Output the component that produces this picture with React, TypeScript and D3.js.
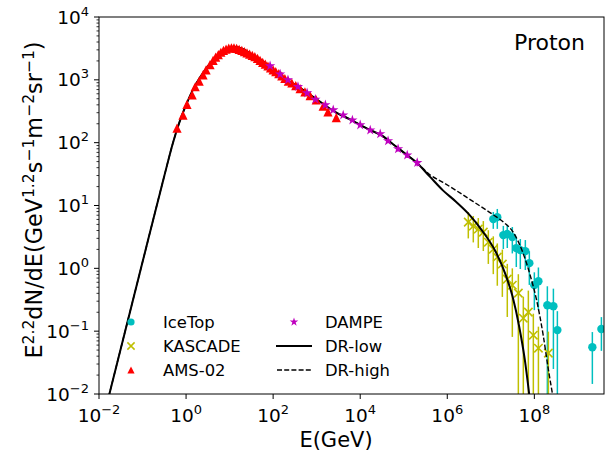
import React from 'react';
import * as d3 from 'd3';

const W = 609, H = 456;
const M = { left: 99, right: 604, top: 17, bottom: 394 };
const FONT = 'DejaVu Sans, sans-serif';

// AMS-02 (kinetic energy GeV, E^2.2 flux)
const amsE = [0.62, 0.85, 1.05, 1.38, 1.62, 2.0, 2.45, 2.88, 3.55, 4.17, 4.79, 5.5, 6.3, 7.24, 8.3, 9.55, 11.0, 12.6, 14.5, 16.6, 19.1, 21.9, 25.1, 28.8, 33.1, 38.0, 43.7, 50.1, 57.5, 66.1, 75.9, 87.1, 100, 115, 135, 158, 186, 224, 269, 331, 417, 537, 708, 977, 1410, 1820, 2820];
const amsF = [170, 275, 407, 575, 776, 955, 1200, 1445, 1740, 2040, 2290, 2510, 2750, 2950, 3090, 3200, 3240, 3240, 3160, 3050, 2950, 2820, 2690, 2570, 2450, 2340, 2190, 2040, 1900, 1780, 1660, 1550, 1445, 1350, 1260, 1150, 1050, 955, 890, 810, 724, 645, 562, 479, 380, 309, 251];

// DAMPE
const dampeE = [85.1, 145, 219, 372, 603, 933, 1585, 2400, 4070, 6610, 10000, 17000, 28800, 43650, 74100, 120200, 204000];
const dampeF = [1660, 1230, 1000, 776, 617, 490, 398, 331, 275, 229, 191, 158, 138, 107, 79.4, 63.1, 47.9];
const dampeErr = [0.03, 0.03, 0.03, 0.03, 0.03, 0.03, 0.04, 0.04, 0.05, 0.05, 0.06, 0.06, 0.07, 0.08, 0.09, 0.1, 0.12];

// IceTop
const iceE = [1.14e7, 1.41e7, 1.94e7, 2.39e7, 3.12e7, 3.85e7, 4.76e7, 6.21e7, 7.67e7, 1.0e8, 1.24e8, 1.99e8, 2.74e8, 3.38e8, 2.15e9, 3.47e9];
const iceF = [6.07, 6.53, 3.38, 3.51, 3.14, 2.10, 1.95, 1.88, 1.21, 0.54, 0.625, 0.259, 0.250, 0.104, 0.0556, 0.108];
const iceErr = [0.3, 0.35, 0.4, 0.4, 0.45, 0.5, 0.5, 0.5, 0.55, 0.6, 0.65, 1.0, 0.9, 1.0, 0.74, 0.55];

// KASCADE
const kasE = [3.04e6, 3.96e6, 5.16e6, 6.73e6, 8.77e6, 1.14e7, 1.41e7, 1.84e7, 2.39e7, 3.12e7, 4.29e7, 5.58e7, 7.28e7, 9.48e7, 1.24e8, 2.10e8];
const kasF = [5.44, 4.70, 4.21, 3.77, 2.61, 2.02, 1.51, 1.17, 0.673, 0.54, 0.403, 0.161, 0.201, 0.0863, 0.0536, 0.0447];
const kasErr = [0.45, 0.45, 0.5, 0.5, 0.55, 0.6, 0.65, 0.7, 0.75, 0.85, 1.0, 1.2, 1.2, 1.2, 1.2, 1.2];

// Model curves
const drLowE = [0.0166, 0.1, 0.316, 0.501, 0.708, 1.0, 1.585, 2.512, 3.98, 6.31, 10, 12.6, 19.95, 31.6, 50.1, 100, 199.5, 398, 1000, 2512, 6310, 15850, 31620, 63100, 125900, 199500, 398100, 794300, 1.585e6, 3.162e6, 6.31e6, 1.259e7, 2.239e7, 3.162e7, 4.467e7, 6.026e7, 7.762e7];
const drLowF = [0.0089, 1.26, 29.5, 100, 213.8, 398, 794, 1318, 1995, 2754, 3273, 3350, 3090, 2570, 2138, 1479, 1023, 759, 490, 316, 229, 162, 129, 89.1, 61.7, 47.9, 28.8, 17.4, 11.5, 7.24, 3.98, 1.905, 0.759, 0.355, 0.120, 0.0355, 0.0089];
const drHighE = [0.0166, 0.1, 0.316, 0.501, 0.708, 1.0, 1.585, 2.512, 3.98, 6.31, 10, 12.6, 19.95, 31.6, 50.1, 100, 199.5, 398, 1000, 2512, 6310, 15850, 31620, 63100, 125900, 199500, 398100, 794300, 1.585e6, 3.98e6, 1.148e7, 1.995e7, 3.236e7, 5.248e7, 7.943e7, 1.122e8, 1.585e8, 2.089e8, 2.69e8];
const drHighF = [0.0089, 1.26, 29.5, 100, 213.8, 398, 794, 1318, 1995, 2754, 3273, 3350, 3090, 2570, 2138, 1479, 1023, 759, 490, 316, 229, 162, 129, 89.1, 61.7, 47.9, 30.9, 23.4, 17.4, 11.5, 7.08, 5.37, 3.80, 1.905, 0.794, 0.316, 0.0891, 0.0251, 0.0089];

const xTickVals = [1e-2, 1e0, 1e2, 1e4, 1e6, 1e8];
const xTickExp = ['−2', '0', '2', '4', '6', '8'];
const yTickVals = [1e-2, 1e-1, 1e0, 1e1, 1e2, 1e3, 1e4];
const yTickExp = ['−2', '−1', '0', '1', '2', '3', '4'];

const C_ICE = '#00bfbf';
const C_KAS = '#bfbf00';
const C_AMS = '#ff0000';
const C_DAMPE = '#bf00bf';

function starPath(r: number) {
  const pts: string[] = [];
  for (let i = 0; i < 10; i++) {
    const rr = i % 2 === 0 ? r : r * 0.382;
    const a = -Math.PI / 2 + (i * Math.PI) / 5;
    pts.push(`${(rr * Math.cos(a)).toFixed(2)},${(rr * Math.sin(a)).toFixed(2)}`);
  }
  return 'M' + pts.join('L') + 'Z';
}
function triPath(h: number) {
  return `M0,${-h}L${h},${h}L${-h},${h}Z`;
}
function xPath(h: number) {
  return `M${-h},${-h}L${h},${h}M${-h},${h}L${h},${-h}`;
}

export default function App() {
  const x = d3.scaleLog().domain([1e-2, Math.pow(10, 9.6)]).range([M.left, M.right]);
  const y = d3.scaleLog().domain([1e-2, 1e4]).range([M.bottom, M.top]);
  const line = d3
    .line<[number, number]>()
    .x((d) => x(d[0]))
    .y((d) => y(d[1]))
    .curve(d3.curveMonotoneX);

  const lowPts = drLowE.map((e, i) => [e, drLowF[i]] as [number, number]);
  const highPts = drHighE.map((e, i) => [e, drHighF[i]] as [number, number]);

  const yMinor = y.ticks().filter((v) => {
    const m = v / Math.pow(10, Math.floor(Math.log10(v) + 1e-9));
    return Math.abs(m - 1) > 1e-6;
  });

  const errY = (f: number, r: number) => {
    const hi = y(f * (1 + r));
    const lo = r < 1 ? y(f * (1 - r)) : M.bottom + 10;
    return [hi, lo];
  };

  return (
    <svg
      width={W}
      height={H}
      style={{ position: 'absolute', left: 0, top: 0, background: '#fff' }}
      fontFamily={FONT}
    >
      <defs>
        <clipPath id="plotclip">
          <rect x={M.left} y={M.top} width={M.right - M.left} height={M.bottom - M.top} />
        </clipPath>
      </defs>
      <rect x={0} y={0} width={W} height={H} fill="#fff" />

      <g clipPath="url(#plotclip)">
        {/* IceTop */}
        <g>
          {iceE.map((e, i) => {
            const [hi, lo] = errY(iceF[i], iceErr[i]);
            return <line key={'ie' + i} x1={x(e)} x2={x(e)} y1={hi} y2={lo} stroke={C_ICE} strokeWidth={1.5} />;
          })}
          {iceE.map((e, i) => (
            <circle key={'ic' + i} cx={x(e)} cy={y(iceF[i])} r={4.2} fill={C_ICE} />
          ))}
        </g>
        {/* KASCADE */}
        <g>
          {kasE.map((e, i) => {
            const [hi, lo] = errY(kasF[i], kasErr[i]);
            return <line key={'ke' + i} x1={x(e)} x2={x(e)} y1={hi} y2={lo} stroke={C_KAS} strokeWidth={1.5} />;
          })}
          {kasE.map((e, i) => (
            <path key={'kx' + i} d={xPath(4.2)} transform={`translate(${x(e)},${y(kasF[i])})`} stroke={C_KAS} strokeWidth={1.6} fill="none" />
          ))}
        </g>
        {/* Model curves */}
        <path d={line(lowPts) || ''} fill="none" stroke="#000" strokeWidth={2} />
        <path d={line(highPts) || ''} fill="none" stroke="#000" strokeWidth={1.4} strokeDasharray="5,2.2" />
        {/* AMS-02 */}
        {amsE.map((e, i) => (
          <path key={'a' + i} d={triPath(4.6)} transform={`translate(${x(e)},${y(amsF[i])})`} fill={C_AMS} />
        ))}
        {/* DAMPE */}
        {dampeE.map((e, i) => {
          const [hi, lo] = errY(dampeF[i], dampeErr[i]);
          return <line key={'de' + i} x1={x(e)} x2={x(e)} y1={hi} y2={lo} stroke={C_DAMPE} strokeWidth={1.5} />;
        })}
        {dampeE.map((e, i) => (
          <path key={'d' + i} d={starPath(5.4)} transform={`translate(${x(e)},${y(dampeF[i])})`} fill={C_DAMPE} />
        ))}
      </g>

      {/* frame */}
      <rect x={M.left} y={M.top} width={M.right - M.left} height={M.bottom - M.top} fill="none" stroke="#000" strokeWidth={1} />

      {/* x ticks */}
      {xTickVals.map((v, i) => (
        <g key={'xt' + i}>
          <line x1={x(v)} x2={x(v)} y1={M.bottom} y2={M.bottom + 5} stroke="#000" strokeWidth={1} />
          <text x={x(v)} y={422} textAnchor="middle" fontSize={18.5} fill="#000">
            10<tspan dy={-8} fontSize={13}>{xTickExp[i]}</tspan>
          </text>
        </g>
      ))}
      {/* y ticks */}
      {yTickVals.map((v, i) => (
        <g key={'yt' + i}>
          <line x1={M.left - 5} x2={M.left} y1={y(v)} y2={y(v)} stroke="#000" strokeWidth={1} />
          <text x={89} y={y(v) + 6.5} textAnchor="end" fontSize={18.5} fill="#000">
            10<tspan dy={-8} fontSize={13}>{yTickExp[i]}</tspan>
          </text>
        </g>
      ))}
      {yMinor.map((v, i) => (
        <line key={'ym' + i} x1={M.left - 2.5} x2={M.left} y1={y(v)} y2={y(v)} stroke="#000" strokeWidth={0.8} />
      ))}

      {/* axis labels */}
      <text x={336} y={447} textAnchor="middle" fontSize={21} fill="#000">
        E(GeV)
      </text>
      <text transform="translate(42,200) rotate(-90)" textAnchor="middle" fontSize={22.3} fill="#000">
        E<tspan dy={-8.5} fontSize={15.6}>2.2</tspan>
        <tspan dy={8.5}>dN/dE(GeV</tspan>
        <tspan dy={-8.5} fontSize={15.6}>1.2</tspan>
        <tspan dy={8.5}>s</tspan>
        <tspan dy={-8.5} fontSize={15.6}>−1</tspan>
        <tspan dy={8.5}>m</tspan>
        <tspan dy={-8.5} fontSize={15.6}>−2</tspan>
        <tspan dy={8.5}>sr</tspan>
        <tspan dy={-8.5} fontSize={15.6}>−1</tspan>
        <tspan dy={8.5}>)</tspan>
      </text>

      <text x={585} y={50} textAnchor="end" fontSize={22} fill="#000">
        Proton
      </text>

      {/* legend */}
      <g fontSize={16.4} fill="#000">
        <circle cx={131} cy={322} r={3.6} fill={C_ICE} />
        <text x={163} y={328}>IceTop</text>
        <path d={xPath(3.6)} transform="translate(131,346)" stroke={C_KAS} strokeWidth={1.5} fill="none" />
        <text x={163} y={352}>KASCADE</text>
        <path d={triPath(3.6)} transform="translate(131,370)" fill={C_AMS} />
        <text x={163} y={376}>AMS-02</text>
        <path d={starPath(4.5)} transform="translate(294,322)" fill={C_DAMPE} />
        <text x={325} y={328}>DAMPE</text>
        <line x1={276} x2={312} y1={346} y2={346} stroke="#000" strokeWidth={2} />
        <text x={325} y={352}>DR-low</text>
        <line x1={277} x2={312} y1={370} y2={370} stroke="#000" strokeWidth={1.4} strokeDasharray="5,2.2" />
        <text x={325} y={376}>DR-high</text>
      </g>
    </svg>
  );
}
